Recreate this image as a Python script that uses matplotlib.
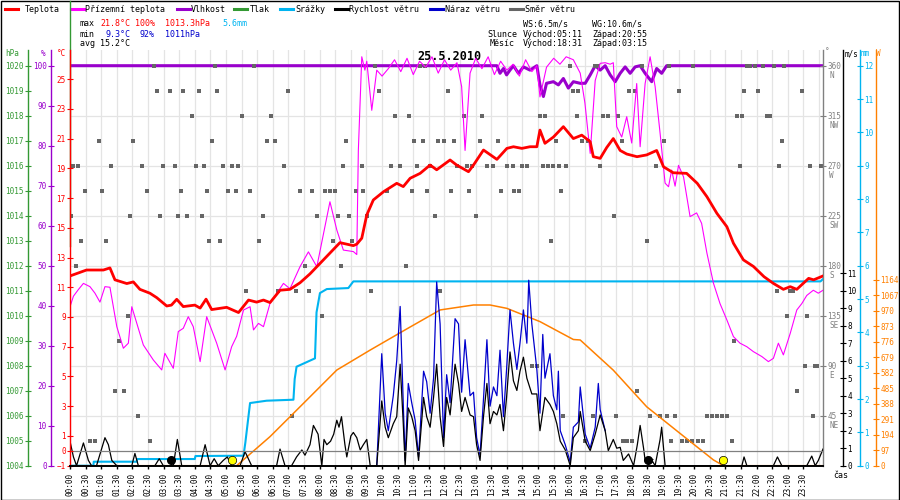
import numpy as np
import matplotlib.pyplot as plt
from matplotlib.lines import Line2D
from matplotlib.patches import Rectangle

plt.rcParams['font.family'] = ['DejaVu Sans Mono', 'DejaVu Sans']

# ---- teplota (°C) ----
temp_t = [0, 0.53, 1.07, 1.28, 1.44, 1.82, 2.03, 2.24, 2.56, 2.78,
          3.1, 3.25, 3.42, 3.63, 4.0, 4.17, 4.36, 4.54, 5.02, 5.4,
          5.72, 5.98, 6.2, 6.41, 6.73, 7.05, 7.37, 7.69, 8.01, 8.33,
          8.65, 9.08, 9.19, 9.35, 9.51, 9.72, 10.05, 10.47, 10.68, 10.9,
          11.22, 11.54, 11.75, 12.18, 12.39, 12.77, 12.93, 13.25, 13.68, 14.0,
          14.21, 14.48, 14.74, 14.96, 15.06, 15.22, 15.49, 15.81, 16.13, 16.4,
          16.67, 16.77, 16.99, 17.2, 17.41, 17.63, 17.84, 18.17, 18.48, 18.8,
          19.02, 19.33, 19.76, 20.1, 20.41, 20.73, 21.05, 21.26, 21.58, 21.9,
          22.24, 22.54, 22.86, 23.08, 23.29, 23.67, 23.83, 24.13]
temp_v = [11.76, 12.16, 12.16, 12.3, 11.5, 11.25, 11.36, 10.86, 10.6, 10.3,
          9.74, 9.8, 10.19, 9.7, 9.8, 9.6, 10.2, 9.5, 9.65, 9.3,
          10.14, 10.0, 10.14, 9.97, 10.8, 10.86, 11.3, 11.9, 12.6, 13.3,
          14.0, 13.8, 13.9, 14.3, 15.86, 16.87, 17.43, 17.99, 17.77, 18.33,
          18.66, 19.22, 18.9, 19.56, 19.22, 18.77, 19.22, 20.23, 19.6, 20.34,
          20.45, 20.34, 20.45, 20.45, 21.57, 20.68, 21.1, 21.8, 21.0, 21.23,
          20.79, 19.78, 19.67, 20.4, 21.0, 20.2, 19.96, 19.78, 19.9, 20.2,
          19.1, 18.7, 18.66, 17.99, 17.09, 15.97, 15.07, 13.96, 12.84, 12.4,
          11.71, 11.26, 10.86, 11.04, 10.86, 11.6, 11.5, 11.76]
temp_edge_t = [0, 0]
temp_edge_v = [27.0, 22.1]

# ---- přízemní teplota (°C) ----
ground_t = [0, 0.11, 0.27, 0.43, 0.64, 0.8, 0.96, 1.12, 1.28, 1.5,
            1.71, 1.87, 1.98, 2.14, 2.35, 2.67, 2.94, 3.04, 3.31, 3.47,
            3.63, 3.79, 3.95, 4.17, 4.38, 4.7, 4.97, 5.18, 5.34, 5.56,
            5.77, 5.88, 6.04, 6.2, 6.41, 6.84, 7.05, 7.37, 7.64, 7.91,
            8.17, 8.33, 8.55, 8.76, 9.08, 9.19, 9.24, 9.35, 9.45, 9.51,
            9.67, 9.83, 10.0, 10.2, 10.4, 10.6, 10.8, 11.0, 11.2, 11.4,
            11.6, 11.8, 12.0, 12.2, 12.4, 12.55, 12.66, 12.82, 13.0, 13.2,
            13.4, 13.6, 13.8, 14.0, 14.2, 14.4, 14.6, 14.8, 14.96, 15.06,
            15.27, 15.5, 15.7, 15.9, 16.13, 16.35, 16.5, 16.67, 16.83, 16.99,
            17.15, 17.31, 17.41, 17.52, 17.68, 17.84, 18.0, 18.16, 18.27, 18.43,
            18.59, 18.75, 18.91, 19.07, 19.18, 19.28, 19.39, 19.5, 19.66, 19.87,
            20.08, 20.24, 20.41, 20.62, 20.83, 21.05, 21.26, 21.47, 21.69, 21.9,
            22.17, 22.38, 22.54, 22.7, 22.86, 23.08, 23.29, 23.45, 23.61, 23.82,
            23.98, 24.13]
ground_v = [9.69, 10.4, 10.85, 11.26, 11.04, 10.6, 10.0, 11.04, 11.0, 8.35,
            6.9, 7.24, 9.69, 8.57, 7.12, 6.11, 5.44, 6.56, 5.55, 8.02,
            8.24, 9.02, 8.35, 6.0, 9.02, 7.24, 5.44, 7.0, 7.7, 9.47,
            9.69, 8.13, 8.57, 8.35, 9.92, 11.26, 10.9, 12.38, 13.38, 12.38,
            15.07, 16.75, 14.85, 13.5, 13.4, 13.2, 20.2, 26.5, 25.6, 26.2,
            22.9, 25.6, 25.2, 25.7, 26.3, 25.5, 26.4, 25.3, 26.2, 25.8,
            26.5, 25.4, 26.3, 25.6, 26.1, 24.5, 20.2, 25.4, 26.4, 25.7,
            26.5, 25.3, 26.2, 25.6, 26.0, 25.2, 26.3, 25.5, 25.9, 23.8,
            25.8, 26.4, 26.0, 26.5, 26.3, 25.4, 23.4, 20.0, 24.9, 26.06,
            26.1, 26.0, 26.1, 21.8, 21.1, 22.47, 20.7, 24.7, 20.45, 24.7,
            26.5, 24.5, 21.35, 18.0, 17.76, 18.88, 17.8, 19.2, 18.43, 15.75,
            16.0, 15.3, 13.3, 11.27, 9.9, 8.8, 7.68, 7.24, 7.0, 6.67,
            6.34, 6.0, 6.22, 7.24, 6.45, 7.9, 9.47, 9.9, 10.45, 10.8,
            10.6, 10.8]

# ---- vlhkost (%) ----
hum_t = [0, 13.68, 13.78, 13.89, 13.99, 14.1, 14.21, 14.37, 14.53, 14.74,
         14.96, 15.06, 15.17, 15.27, 15.49, 15.65, 15.81, 15.97, 16.13, 16.35,
         16.51, 16.67, 16.83, 16.99, 17.15, 17.31, 17.47, 17.63, 17.79, 17.95,
         18.11, 18.27, 18.43, 18.64, 18.8, 18.96, 19.12, 24.13]
hum_v = [100, 100, 98.1, 99.3, 97.7, 98.9, 100, 98.1, 99.7, 98.9,
         100, 95.2, 92.3, 95.6, 96.0, 95.2, 96.8, 94.4, 96.0, 95.6,
         95.6, 97.7, 100, 98.9, 100, 97.7, 96.0, 98.1, 99.7, 98.1,
         99.7, 100, 98.1, 96.0, 99.3, 98.1, 100, 100]

# ---- tlak (hPa) ----
pres_t = [0, 0]
pres_v = [1022.6, 1012.8]

# ---- srážky (mm) ----
rain_t = [0, 0.75, 0.76, 2.14, 2.15, 4.0, 4.02, 5.56, 5.62, 5.77,
          6.3, 7.16, 7.2, 7.26, 7.85, 7.9, 8.01, 8.23, 8.92, 9.08,
          24.05, 24.13]
rain_v = [0, 0, 0.12, 0.12, 0.2, 0.2, 0.29, 0.3, 0.7, 1.88,
          1.95, 1.98, 2.6, 2.97, 3.22, 4.6, 5.18, 5.3, 5.33, 5.53,
          5.53, 5.6]

# ---- sluneční záření (W) ----
sol_t = [0, 5.34, 6.41, 7.48, 8.55, 9.62, 10.79, 11.86, 12.93, 13.46,
         14.0, 15.06, 16.13, 16.35, 17.41, 18.48, 19.55, 20.62, 20.94, 24.13]
sol_v = [0, 0, 182, 390, 599, 724, 856, 975, 1006, 1006,
         985, 902, 790, 787, 598, 369, 202, 36, 0, 0]

# ---- rychlost větru (m/s) ----
wind_t = [0, 0.11, 0.21, 0.43, 0.59, 0.69, 0.85, 1.12, 1.23, 1.34,
          1.5, 1.98, 2.08, 2.19, 2.72, 2.86, 2.99, 3.31, 3.44, 3.58,
          4.17, 4.33, 4.49, 4.62, 4.75, 4.91, 5.04, 5.18, 5.45, 5.61,
          5.82, 6.62, 6.73, 6.89, 7.1, 7.26, 7.43, 7.53, 7.69, 7.8,
          7.95, 8.07, 8.14, 8.23, 8.35, 8.45, 8.55, 8.62, 8.7, 8.81,
          8.87, 9.0, 9.08, 9.19, 9.3, 9.4, 9.51, 9.62, 9.83, 9.99,
          10.1, 10.2, 10.36, 10.47, 10.58, 10.68, 10.74, 10.84, 10.95, 11.06,
          11.17, 11.33, 11.43, 11.54, 11.65, 11.75, 11.86, 11.97, 12.07, 12.18,
          12.34, 12.45, 12.55, 12.66, 12.82, 12.93, 13.03, 13.14, 13.25, 13.36,
          13.46, 13.57, 13.68, 13.78, 13.89, 13.99, 14.1, 14.21, 14.32, 14.42,
          14.53, 14.64, 14.8, 14.96, 15.06, 15.22, 15.38, 15.49, 15.6, 15.71,
          15.87, 16.03, 16.13, 16.29, 16.35, 16.51, 16.67, 16.83, 16.99, 17.15,
          17.25, 17.41, 17.52, 17.63, 17.73, 17.9, 18.06, 18.18, 18.27, 18.38,
          18.43, 18.59, 18.75, 18.91, 18.96, 19.07, 21.53, 21.6, 21.69, 22.54,
          22.67, 22.81, 23.61, 23.77, 23.88, 23.98, 24.13]
wind_v = [1.4, 0.5, 0, 1.3, 0.3, 0, 0, 1.6, 1.2, 0.3,
          0, 0, 0.7, 0, 0, 0.4, 0, 0, 1.5, 0,
          0, 1.2, 0, 0.4, 0, 0.3, 0.5, 0, 0, 0.8,
          0, 0, 0.95, 0, 0, 0.5, 0.9, 0.6, 1.2, 2.3,
          1.8, 0, 1.5, 1.2, 1.4, 1.8, 2.6, 2.2, 2.8, 1.2,
          0.5, 1.7, 1.9, 1.6, 0.9, 1.2, 1.5, 0, 0, 3.7,
          2.2, 1.6, 2.4, 2.8, 5.8, 2.4, 0, 3.3, 2.8, 2.0,
          0.3, 3.9, 2.8, 2.2, 3.9, 5.8, 2.8, 1.1, 3.9, 2.9,
          5.8, 4.7, 3.1, 3.9, 2.9, 2.8, 1.2, 0.3, 2.8, 4.7,
          2.4, 3.1, 2.9, 3.5, 2.0, 3.9, 6.5, 4.85, 4.3, 5.4,
          6.2, 5.0, 4.1, 4.1, 2.0, 3.9, 3.5, 3.1, 2.4, 1.4,
          0.9, 0, 1.6, 2.0, 3.1, 1.4, 0.86, 1.8, 2.9, 2.0,
          0.86, 1.5, 1.0, 1.05, 0.3, 0.67, 0, 1.2, 2.3, 1.0,
          0.3, 0.48, 0, 1.5, 2.2, 0, 0, 0.5, 0, 0,
          0.5, 0, 0, 0.55, 0, 0.3, 0.95]

# ---- náraz větru (m/s) ----
gust_t = [9.83, 9.99, 10.1, 10.2, 10.36, 10.47, 10.58, 10.68, 10.74, 10.84,
          10.95, 11.06, 11.17, 11.33, 11.43, 11.54, 11.65, 11.75, 11.86, 11.97,
          12.07, 12.18, 12.34, 12.45, 12.55, 12.66, 12.82, 12.93, 13.03, 13.14,
          13.25, 13.36, 13.46, 13.57, 13.68, 13.78, 13.89, 13.99, 14.1, 14.21,
          14.32, 14.42, 14.53, 14.64, 14.7, 14.8, 14.96, 15.06, 15.15, 15.22,
          15.38, 15.49, 15.6, 15.65, 15.71, 15.87, 16.03, 16.13, 16.29, 16.35,
          16.51, 16.67, 16.83, 16.93, 16.99, 17.15]
gust_v = [0, 6.4, 3.0, 2.0, 4.0, 6.0, 9.1, 3.5, 0.3, 4.7,
          3.6, 2.6, 0.5, 5.4, 4.8, 3.0, 5.0, 10.5, 8.1, 1.6,
          5.2, 3.6, 8.4, 8.1, 4.2, 7.2, 4.0, 4.2, 1.6, 0.6,
          3.8, 7.2, 3.4, 4.5, 4.0, 6.6, 2.8, 5.5, 8.9, 7.0,
          5.5, 7.0, 8.9, 7.0, 10.6, 8.1, 5.5, 3.0, 7.5, 5.0,
          6.4, 4.0, 3.2, 5.4, 2.0, 1.2, 0.2, 2.2, 2.5, 4.5,
          1.8, 1.0, 2.2, 4.7, 3.2, 2.0]

# ---- směr větru (°) ----
dir_rows = {
    360: [2.69, 4.65, 5.91, 9.78, 11.22, 11.38, 16.03, 16.83, 16.93, 18.32,
          19.18, 19.98, 21.69, 21.79, 21.95, 22.20, 22.56, 22.88],
    337.5: [2.78, 3.21, 3.61, 4.13, 4.70, 6.98, 9.91, 12.10, 16.13, 16.29,
            17.92, 18.09, 19.52, 21.61, 22.06, 23.45],
    315: [3.90, 5.52, 6.44, 10.40, 10.87, 12.63, 13.19, 15.06, 15.22, 16.24,
          17.09, 17.25, 17.57, 21.37, 21.53, 22.33, 22.44],
    292.5: [0.93, 2.01, 4.54, 6.30, 6.56, 8.84, 11.03, 11.30, 11.78, 11.97,
            12.31, 13.14, 13.71, 15.58, 16.40, 16.61, 17.68, 19.02, 22.81],
    270: [0.11, 0.25, 1.30, 2.32, 2.99, 3.37, 4.04, 4.29, 4.91, 5.20,
          5.37, 6.87, 8.74, 9.35, 10.29, 10.58, 11.11, 11.54, 12.39, 12.71,
          12.87, 13.36, 13.57, 13.99, 14.21, 14.48, 14.64, 15.17, 15.33, 15.49,
          15.67, 15.90, 16.99, 18.78, 21.47, 22.72, 23.72, 24.08],
    247.5: [0.48, 1.01, 2.46, 3.55, 4.38, 5.05, 5.31, 5.77, 7.37, 7.75,
            8.17, 8.33, 8.49, 9.17, 9.40, 10.15, 10.95, 11.43, 12.20, 12.77,
            13.81, 14.23, 14.39, 15.73],
    225: [0.03, 1.92, 2.88, 3.45, 3.76, 4.22, 6.20, 7.91, 8.58, 8.94,
          9.51, 11.70, 13.01, 17.44],
    202.5: [0.34, 1.14, 4.47, 4.80, 6.05, 8.44, 9.03, 15.41, 18.48],
    180: [0.18, 7.53, 8.68, 10.77],
    157.5: [5.63, 6.68, 7.24, 7.65, 9.65, 11.86, 22.65, 23.06, 23.18],
    135: [1.87, 8.07, 22.97, 23.63],
    112.5: [1.56, 21.28],
    90: [14.80, 14.96, 23.56, 23.88, 23.95],
    67.5: [1.44, 1.73, 18.16, 23.29],
    45: [2.17, 7.13, 15.81, 16.75, 17.50, 18.59, 18.91, 19.12, 19.39, 20.41,
         20.57, 20.73, 20.89, 21.05, 23.80],
    22.5: [0.64, 0.80, 2.56, 16.51, 17.73, 17.84, 18.00, 19.25, 19.60, 19.76,
           19.92, 20.14, 20.28, 21.21],
}

# východ / západ slunce a měsíce (h)
sun_times = [5.18, 20.92]
moon_times = [3.25, 18.52]

RED = '#ff0000'
MAG = '#ff00ff'
PUR = '#9900cc'
GRN = '#339933'
SKY = '#00b4f0'
GUST = '#0000cc'
SQ = '#666666'
AXG = '#808080'
ORG = '#ff8000'
GRID = '#e4e4e4'


def fx(x):
    return x / 900


def fy(y):
    return 1 - y / 500


fig = plt.figure(figsize=(9, 5), dpi=100)
fig.patch.set_facecolor('white')
ax = fig.add_axes([70 / 900, 1 - 465.7 / 500, 753 / 900, 415.7 / 500])
ax_g = ax.twinx()
ax_h = ax.twinx()
ax_d = ax.twinx()
ax_s = ax.twinx()
ax_r = ax.twinx()
ax_w = ax.twinx()
ax_p = ax.twinx()
order = [ax_g, ax_h, ax_d, ax_s, ax_r, ax_w, ax_p, ax]
for z, a in enumerate(order):
    a.set_zorder(z)
    a.patch.set_visible(False)
    for s in a.spines.values():
        s.set_visible(False)

ax.set_xlim(0, 24.13)
ax.set_ylim(-1, -1 + 415.7 / 14.87)
ax_g.set_ylim(0, 415.7 * 0.9)
ax_d.set_ylim(0, 415.7 * 0.9)
ax_h.set_ylim(0, 415.7 / 4.0)
ax_p.set_ylim(1004, 1004 + 415.7 / 25)
ax_w.set_ylim(0, 415.7 / 17.5)
ax_r.set_ylim(0, 415.7 / 33.33)
ax_s.set_ylim(0, 415.7 * 6.26)

# mřížka
ax_g.yaxis.set_visible(False)
for h in np.arange(0, 24.01, 0.5):
    ax_g.axvline(h, color=GRID, lw=0.9)
for d in np.arange(45, 361, 45):
    ax_g.axhline(d, color=GRID, lw=0.9)


def style_axis(a, side, pos, color, ticks):
    sp = a.spines[side]
    sp.set_visible(True)
    sp.set_position(('axes', pos))
    sp.set_color(color)
    sp.set_linewidth(1.0)
    if side == 'left':
        a.yaxis.tick_left()
    else:
        a.yaxis.tick_right()
    a.set_yticks(ticks)
    a.tick_params(axis='y', colors=color, labelsize=5.5, direction='inout',
                  length=4, width=0.8, pad=1)


style_axis(ax, 'left', 0.0, RED, [-1, 0] + list(range(1, 26, 2)))
style_axis(ax_h, 'left', -19 / 753, PUR, list(range(0, 101, 10)))
style_axis(ax_p, 'left', -42 / 753, GRN, list(range(1004, 1021)))
style_axis(ax_d, 'right', 1.0, AXG, list(range(45, 361, 45)))
style_axis(ax_w, 'right', 773 / 753, 'black', list(range(0, 12)))
style_axis(ax_r, 'right', 790 / 753, SKY, list(range(0, 13)))
style_axis(ax_s, 'right', 806 / 753, ORG, list(range(0, 1165, 97)))

for d, letter in zip(range(45, 361, 45), ['NE', 'E', 'SE', 'S', 'SW', 'W', 'NW', 'N']):
    ax_d.annotate(letter, xy=(1, d), xycoords=ax_d.get_yaxis_transform(),
                  xytext=(4.5, -7), textcoords='offset points', fontsize=5.5,
                  color=AXG, va='center')

# osa x
ax.spines['bottom'].set_visible(True)
ax.spines['bottom'].set_color('black')
ax.spines['bottom'].set_linewidth(1.4)
xt = np.arange(0, 24, 0.5)
ax.set_xticks(xt)
ax.set_xticklabels(['%02d:%02d' % (int(h), int(round((h % 1) * 60))) for h in xt],
                   rotation=90, fontsize=5.5)
ax.tick_params(axis='x', direction='out', length=2, width=1, pad=3)

# data
ax.axhline(0, color=AXG, lw=0.9, zorder=1)
ax_h.plot(hum_t, hum_v, color=PUR, lw=2.2)
for d, ts in dir_rows.items():
    ax_d.plot(ts, [d] * len(ts), 's', color=SQ, ms=3.4, mew=0)
ax_s.plot(sol_t, sol_v, color=ORG, lw=1.1)
ax_r.plot(rain_t, rain_v, color=SKY, lw=1.5)
ax_w.plot(gust_t, gust_v, color=GUST, lw=0.9)
ax_w.plot(wind_t, wind_v, color='black', lw=0.9)
ax_w.plot(sun_times, [0.3, 0.3], 'o', color='#ffff00', mec='black', mew=0.5, ms=6, zorder=5)
ax_w.plot(moon_times, [0.3, 0.3], 'o', color='black', ms=5.5, zorder=5)
ax_w.text(18.66, 0.05, '↑', fontsize=6, ha='center', va='bottom')
ax_p.plot(pres_t, pres_v, color=GRN, lw=1.0, clip_on=False)
ax.plot(ground_t, ground_v, color=MAG, lw=0.8, zorder=2)
ax.plot(temp_t, temp_v, color=RED, lw=2.0, zorder=3)
ax.plot(temp_edge_t, temp_edge_v, color=RED, lw=1.2, zorder=3)

# záhlaví os
fig.text(fx(5), fy(54), 'hPa', color=GRN, fontsize=5.5, va='center')
fig.text(fx(41), fy(54), '%', color=PUR, fontsize=5.5, va='center')
fig.text(fx(57), fy(54), '°C', color=RED, fontsize=5.5, va='center')
fig.text(fx(825), fy(52), '°', color=AXG, fontsize=5.5, va='center')
fig.text(fx(845), fy(54), 'm/s', color='black', fontsize=5.5, va='center')
fig.text(fx(861), fy(54), 'mm', color=SKY, fontsize=5.5, va='center')
fig.text(fx(876), fy(54), 'W', color=ORG, fontsize=5.5, va='center')
fig.text(fx(833), fy(476), 'čas', color='black', fontsize=6, va='center')

# legenda
legend = [(RED, 'Teplota', 5, 25), (MAG, 'Přízemní teplota', 71, 85),
          (PUR, 'Vlhkost', 177, 191), (GRN, 'Tlak', 234, 250),
          (SKY, 'Srážky', 280, 295), ('black', 'Rychlost větru', 335, 349),
          (GUST, 'Náraz větru', 430, 445), (SQ, 'Směr větru', 510, 525)]
for c, lab, x0, xt0 in legend:
    fig.add_artist(Line2D([fx(x0), fx(x0 + 13)], [fy(9), fy(9)], color=c, lw=2.2))
    fig.text(fx(xt0), fy(9), lab, fontsize=6, va='center')

# statistiky
BLU = '#0000cc'
stats = [('max', 80, 24, 'black'), ('21.8°C', 100, 24, RED), ('100%', 135, 24, RED),
         ('1013.3hPa', 165, 24, RED), ('5.6mm', 222, 24, SKY),
         ('min', 80, 34, 'black'), ('9.3°C', 105, 34, BLU), ('92%', 140, 34, BLU),
         ('1011hPa', 165, 34, BLU), ('avg 15.2°C', 80, 44, 'black'),
         ('WS:6.5m/s', 523, 24, 'black'), ('WG:10.6m/s', 592, 24, 'black'),
         ('Slunce', 487, 34, 'black'), ('Východ:05:11', 523, 34, 'black'),
         ('Západ:20:55', 592, 34, 'black'), ('Měsíc', 490, 44, 'black'),
         ('Východ:18:31', 523, 44, 'black'), ('Západ:03:15', 592, 44, 'black')]
for s, x, y, c in stats:
    fig.text(fx(x), fy(y), s, color=c, fontsize=6, va='center')

fig.text(fx(449), fy(57), '25.5.2010', fontsize=8.5, fontweight='bold',
         ha='center', va='center')

fig.add_artist(Rectangle((0.0006, 0.001), 0.9988, 0.998, transform=fig.transFigure,
                         fill=False, ec='black', lw=1.0))

fig.savefig('out.png', dpi=100)
